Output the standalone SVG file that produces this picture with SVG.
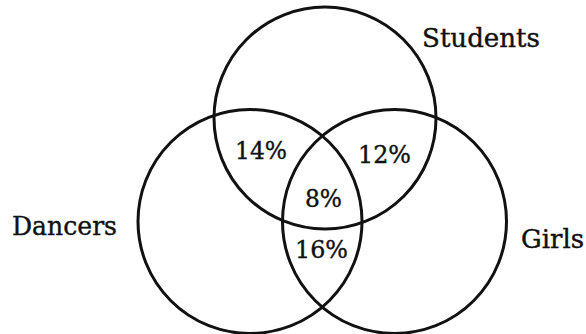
<svg xmlns="http://www.w3.org/2000/svg" width="586" height="334" viewBox="0 0 586 334">
<style>
.c{fill:none;stroke:#111;stroke-width:3}
.t{font-family:"DejaVu Serif","Liberation Serif",serif;font-size:26px;fill:#111;stroke:#111;stroke-width:0.4}
.p{font-family:"DejaVu Serif","Liberation Serif",serif;font-size:25px;fill:#111;stroke:#111;stroke-width:0.4}
</style>
<rect width="586" height="334" fill="#fff"/>
<g id="students"><circle class="c" cx="325" cy="118" r="111"/><text class="t" x="422" y="47" textLength="118" lengthAdjust="spacingAndGlyphs">Students</text></g>
<g id="dancers"><circle class="c" cx="250" cy="221.5" r="112"/><text class="t" x="12" y="235" textLength="105" lengthAdjust="spacingAndGlyphs">Dancers</text></g>
<g id="girls"><circle class="c" cx="394.5" cy="221.5" r="112"/><text class="t" x="521" y="248" textLength="63" lengthAdjust="spacingAndGlyphs">Girls</text></g>
<g id="regions">
<text class="p" x="235" y="159" textLength="52" lengthAdjust="spacingAndGlyphs">14%</text>
<text class="p" x="358" y="163" textLength="53" lengthAdjust="spacingAndGlyphs">12%</text>
<text class="p" x="305" y="207" textLength="37" lengthAdjust="spacingAndGlyphs">8%</text>
<text class="p" x="295" y="258" textLength="53" lengthAdjust="spacingAndGlyphs">16%</text>
</g>
</svg>
